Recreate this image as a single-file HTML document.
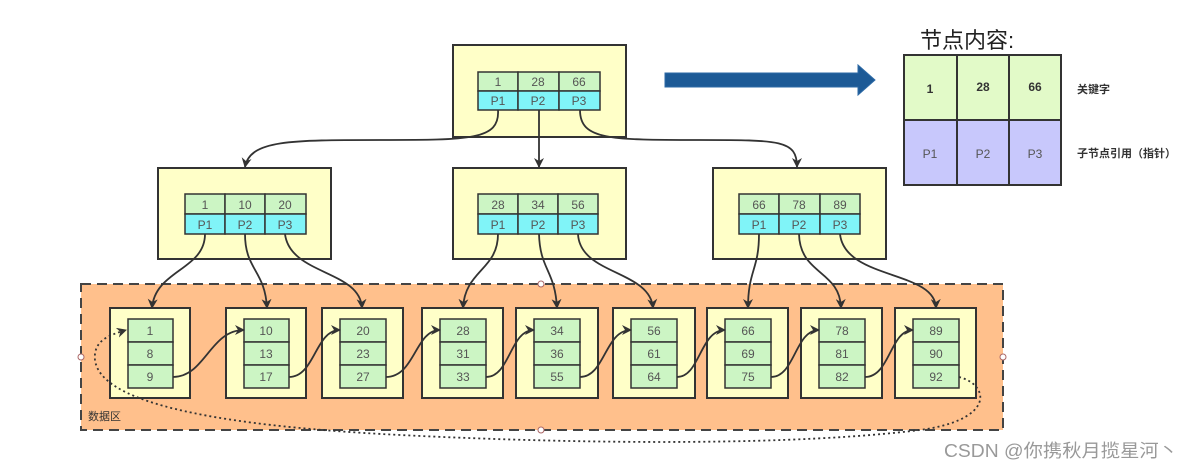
<!DOCTYPE html>
<html><head><meta charset="utf-8">
<style>
html,body{margin:0;padding:0;background:#fff;}
svg{display:block;}
text{font-family:"Liberation Sans","Noto Sans CJK SC",sans-serif;}
</style></head>
<body>
<svg width="1181" height="470" viewBox="0 0 1181 470" xmlns="http://www.w3.org/2000/svg">
<defs>
<marker id="ah" markerWidth="10" markerHeight="10" refX="9" refY="5" orient="auto" markerUnits="userSpaceOnUse">
<path d="M0,0 L10,5 L0,10 L3,5 z" fill="#333"/>
</marker>
</defs>

<rect x="81" y="284" width="922" height="146" fill="#ffc08c" stroke="#444" stroke-width="2" stroke-dasharray="10,6"/>
<circle cx="541" cy="284" r="3" fill="#fff" stroke="#a66"/>
<circle cx="541" cy="430" r="3" fill="#fff" stroke="#a66"/>
<circle cx="81" cy="357" r="3" fill="#fff" stroke="#a66"/>
<circle cx="1003" cy="357" r="3" fill="#fff" stroke="#a66"/>
<text x="88" y="420" font-size="11" fill="#333">数据区</text>

<g stroke="#333" stroke-width="2">
<rect x="453" y="45" width="173" height="92" fill="#ffffc8"/>
<rect x="158" y="168" width="173" height="91" fill="#ffffc8"/>
<rect x="453" y="168" width="173" height="91" fill="#ffffc8"/>
<rect x="713" y="168" width="173" height="91" fill="#ffffc8"/>
</g>

<g stroke="#333" stroke-width="1.5" font-size="12">
<g fill="#ccf5c4"><rect x="478" y="72" width="40" height="19"/><rect x="518" y="72" width="41" height="19"/><rect x="559" y="72" width="41" height="19"/></g>
<g fill="#80f4f8"><rect x="478" y="91" width="40" height="19"/><rect x="518" y="91" width="41" height="19"/><rect x="559" y="91" width="41" height="19"/></g>
<g fill="#ccf5c4"><rect x="185" y="194" width="40" height="20"/><rect x="225" y="194" width="40" height="20"/><rect x="265" y="194" width="41" height="20"/></g>
<g fill="#80f4f8"><rect x="185" y="214" width="40" height="20"/><rect x="225" y="214" width="40" height="20"/><rect x="265" y="214" width="41" height="20"/></g>
<g fill="#ccf5c4"><rect x="478" y="194" width="40" height="20"/><rect x="518" y="194" width="40" height="20"/><rect x="558" y="194" width="40" height="20"/></g>
<g fill="#80f4f8"><rect x="478" y="214" width="40" height="20"/><rect x="518" y="214" width="40" height="20"/><rect x="558" y="214" width="40" height="20"/></g>
<g fill="#ccf5c4"><rect x="739" y="194" width="40" height="20"/><rect x="779" y="194" width="41" height="20"/><rect x="820" y="194" width="40" height="20"/></g>
<g fill="#80f4f8"><rect x="739" y="214" width="40" height="20"/><rect x="779" y="214" width="41" height="20"/><rect x="820" y="214" width="40" height="20"/></g>
</g>

<g font-size="12" fill="#555" text-anchor="middle">
<text x="498" y="86">1</text><text x="538" y="86">28</text><text x="579" y="86">66</text>
<text x="498" y="105">P1</text><text x="538" y="105">P2</text><text x="579" y="105">P3</text>
<text x="205" y="209">1</text><text x="245" y="209">10</text><text x="285" y="209">20</text>
<text x="205" y="229">P1</text><text x="245" y="229">P2</text><text x="285" y="229">P3</text>
<text x="498" y="209">28</text><text x="538" y="209">34</text><text x="578" y="209">56</text>
<text x="498" y="229">P1</text><text x="538" y="229">P2</text><text x="578" y="229">P3</text>
<text x="759" y="209">66</text><text x="799" y="209">78</text><text x="840" y="209">89</text>
<text x="759" y="229">P1</text><text x="799" y="229">P2</text><text x="840" y="229">P3</text>
</g>

<g stroke="#333" stroke-width="2" fill="#ffffc8">
<rect x="110" y="308" width="80" height="90"/>
<rect x="226" y="308" width="80" height="90"/>
<rect x="322" y="308" width="81" height="90"/>
<rect x="422" y="308" width="81" height="90"/>
<rect x="516" y="308" width="82" height="90"/>
<rect x="613" y="308" width="82" height="90"/>
<rect x="707" y="308" width="81" height="90"/>
<rect x="801" y="308" width="81" height="90"/>
<rect x="895" y="308" width="81" height="90"/>
</g>
<g stroke="#333" stroke-width="1.5" fill="#ccf5c4">
<rect x="128" y="319" width="45" height="23"/><rect x="128" y="342" width="45" height="23"/><rect x="128" y="365" width="45" height="23"/>
<rect x="244" y="319" width="45" height="23"/><rect x="244" y="342" width="45" height="23"/><rect x="244" y="365" width="45" height="23"/>
<rect x="340" y="319" width="46" height="23"/><rect x="340" y="342" width="46" height="23"/><rect x="340" y="365" width="46" height="23"/>
<rect x="440" y="319" width="46" height="23"/><rect x="440" y="342" width="46" height="23"/><rect x="440" y="365" width="46" height="23"/>
<rect x="534" y="319" width="46" height="23"/><rect x="534" y="342" width="46" height="23"/><rect x="534" y="365" width="46" height="23"/>
<rect x="631" y="319" width="46" height="23"/><rect x="631" y="342" width="46" height="23"/><rect x="631" y="365" width="46" height="23"/>
<rect x="725" y="319" width="46" height="23"/><rect x="725" y="342" width="46" height="23"/><rect x="725" y="365" width="46" height="23"/>
<rect x="819" y="319" width="46" height="23"/><rect x="819" y="342" width="46" height="23"/><rect x="819" y="365" width="46" height="23"/>
<rect x="913" y="319" width="46" height="23"/><rect x="913" y="342" width="46" height="23"/><rect x="913" y="365" width="46" height="23"/>
</g>
<g font-size="12" fill="#555" text-anchor="middle">
<text x="150" y="335">1</text><text x="150" y="358">8</text><text x="150" y="381">9</text>
<text x="266" y="335">10</text><text x="266" y="358">13</text><text x="266" y="381">17</text>
<text x="363" y="335">20</text><text x="363" y="358">23</text><text x="363" y="381">27</text>
<text x="463" y="335">28</text><text x="463" y="358">31</text><text x="463" y="381">33</text>
<text x="557" y="335">34</text><text x="557" y="358">36</text><text x="557" y="381">55</text>
<text x="654" y="335">56</text><text x="654" y="358">61</text><text x="654" y="381">64</text>
<text x="748" y="335">66</text><text x="748" y="358">69</text><text x="748" y="381">75</text>
<text x="842" y="335">78</text><text x="842" y="358">81</text><text x="842" y="381">82</text>
<text x="936" y="335">89</text><text x="936" y="358">90</text><text x="936" y="381">92</text>
</g>

<g fill="none" stroke="#333" stroke-width="1.8" marker-end="url(#ah)">
<path d="M498,110 C500,140 470,140 380,140 C290,140 250,140 245,167"/>
<path d="M539,110 L539,167"/>
<path d="M580,110 C580,140 610,140 700,140 C780,140 797,140 797,167"/>
<path d="M205,234 C205,270 155,270 152,308"/>
<path d="M245,234 C245,270 265,270 267,308"/>
<path d="M285,234 C290,275 360,270 362,308"/>
<path d="M498,234 C498,270 465,270 463,308"/>
<path d="M539,234 C540,270 555,270 557,308"/>
<path d="M578,234 C580,275 650,270 653,308"/>
<path d="M759,234 C759,270 748,270 748,308"/>
<path d="M799,234 C800,275 840,270 841,308"/>
<path d="M840,234 C845,280 935,270 936,308"/>
<path d="M173,377 C205,377 210,330 244,330"/>
<path d="M289,377 C315,377 315,330 340,330"/>
<path d="M386,377 C415,377 415,330 440,330"/>
<path d="M486,377 C510,377 510,330 534,330"/>
<path d="M580,377 C605,377 605,330 631,330"/>
<path d="M677,377 C700,377 700,330 725,330"/>
<path d="M771,377 C795,377 795,330 819,330"/>
<path d="M865,377 C890,377 890,330 913,330"/>
<path d="M959,377 C990,385 995,420 920,430 C800,445 600,445 400,435 C200,425 100,400 95,360 C93,340 110,335 126,330" stroke-dasharray="2,3"/>
</g>

<path d="M665,73 L858,73 L858,65 L875,80 L858,95 L858,87 L665,87 z" fill="#1d5a96" stroke="#2d6aa6"/>

<text x="920" y="48" font-size="22" fill="#222">节点内容:</text>
<g stroke="#333" stroke-width="2">
<rect x="904" y="55" width="157" height="65" fill="#e2fac8"/>
<rect x="904" y="120" width="157" height="65" fill="#c8c8fc"/>
<line x1="957" y1="55" x2="957" y2="185"/>
<line x1="1009" y1="55" x2="1009" y2="185"/>
</g>
<g font-size="12" fill="#333" text-anchor="middle" font-weight="bold">
<text x="930" y="93">1</text><text x="983" y="91">28</text><text x="1035" y="91">66</text>
</g>
<g font-size="12" fill="#555" text-anchor="middle">
<text x="930" y="158">P1</text><text x="983" y="158">P2</text><text x="1035" y="158">P3</text>
</g>
<text x="1077" y="93" font-size="11" fill="#333" font-weight="bold">关键字</text>
<text x="1077" y="157" font-size="11" fill="#333" font-weight="bold">子节点引用（指针）</text>

<text x="944" y="457" font-size="18" fill="#999" textLength="234" lengthAdjust="spacingAndGlyphs">CSDN @你携秋月揽星河丶</text>
</svg>
</body></html>
